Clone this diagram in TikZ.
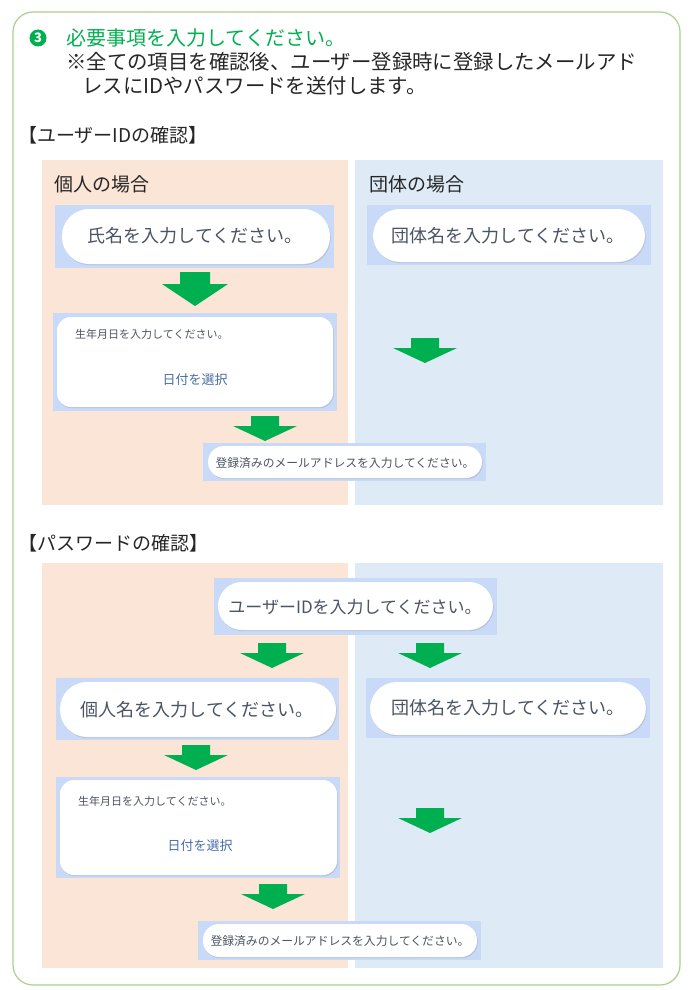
\documentclass[tikz,border=0pt]{standalone}
\usepackage{fontspec}
\setmainfont{Noto Sans CJK JP}
\usetikzlibrary{shadows}
\definecolor{tgreen}{HTML}{00B050}
\definecolor{frameg}{HTML}{A9D18E}
\definecolor{pinkbg}{HTML}{FBE5D6}
\definecolor{bluebg}{HTML}{DEEBF7}
\definecolor{lblue}{HTML}{C9DAF8}
\definecolor{tgray}{HTML}{4A5463}
\definecolor{linkb}{HTML}{4A6DA7}
\begin{document}
\begin{tikzpicture}[x=1pt,y=-1pt,
  pill/.style={fill=white,draw=none,rounded corners=#1,inner sep=0,
    drop shadow={opacity=0.25,shadow xshift=0.8pt,shadow yshift=-1.2pt}},
  ptext/.style={text=tgray,font=\fontsize{#1}{#1}\selectfont,inner sep=0},
  arr/.pic={\fill[tgreen] (-15,0) -- (15,0) -- (15,12) -- (33,12) -- (0,34) -- (-33,12) -- (-15,12) -- cycle;},
  sarr/.pic={\fill[tgreen] (-14,0) -- (14,0) -- (14,10) -- (32,10) -- (0,25) -- (-32,10) -- (-14,10) -- cycle;}
]
\useasboundingbox (0,0) rectangle (690,990);
\fill[white] (0,0) rectangle (690,990);
\draw[frameg,line width=1.2pt,rounded corners=20] (13,12) rectangle (680,985);
% header
\node[circle,fill=tgreen,text=white,inner sep=0,minimum size=17pt,font=\fontsize{13}{13}\selectfont\bfseries] (c3) at (38,38) {3};
\node[anchor=west,inner sep=0,text=tgreen,font=\fontsize{20}{20}\selectfont] (t1) at (66,38) {必要事項を入力してください。};
\node[anchor=west,inner sep=0,text=black!85,font=\fontsize{20.4}{20}\selectfont] (t2) at (66,62) {※全ての項目を確認後、ユーザー登録時に登録したメールアド};
\node[anchor=west,inner sep=0,text=black!85,font=\fontsize{20.4}{20}\selectfont] (t3) at (82,86) {レスにIDやパスワードを送付します。};
% section 1
\node[anchor=west,inner sep=0,text=black!85,font=\fontsize{19}{19}\selectfont] (s1) at (18,135) {【ユーザーIDの確認】};
\fill[pinkbg] (42,160) rectangle (348,505);
\fill[bluebg] (355,160) rectangle (663,505);
\node[anchor=west,inner sep=0,text=black!85,font=\fontsize{19}{19}\selectfont] (h1) at (54,184) {個人の場合};
\node[anchor=west,inner sep=0,text=black!85,font=\fontsize{19}{19}\selectfont] (h2) at (369,184) {団体の場合};
% name boxes
\fill[lblue] (55,205) rectangle (334,268);
\fill[pill=27] (62,209) rectangle (330,264);
\node[ptext=18] (n1) at (195,236) {氏名を入力してください。};
\fill[lblue] (367,205) rectangle (651,265);
\fill[pill=27] (373,209) rectangle (645,262);
\node[ptext=18] (g1) at (508,236) {団体名を入力してください。};
\pic at (195,272) {arr};
% birthday
\fill[lblue] (53,313) rectangle (337,411);
\fill[pill=14] (57,317) rectangle (333,407);
\node[anchor=west,ptext=11] (b1) at (75,334) {生年月日を入力してください。};
\node[text=linkb,inner sep=0,font=\fontsize{13}{13}\selectfont] (d1) at (195,380) {日付を選択};
\pic at (425,338) {sarr};
\pic at (265,416) {sarr};
% email
\fill[lblue] (203,443) rectangle (486,481);
\fill[pill=16] (208,446) rectangle (482,478);
\node[ptext=11.8] (e1) at (345,463) {登録済みのメールアドレスを入力してください。};
% section 2
\node[anchor=west,inner sep=0,text=black!85,font=\fontsize{19}{19}\selectfont] (s2) at (18,543) {【パスワードの確認】};
\fill[pinkbg] (42,563) rectangle (348,968);
\fill[bluebg] (355,563) rectangle (663,968);
\fill[lblue] (214,578) rectangle (497,635);
\fill[pill=24] (218,582) rectangle (493,630);
\node[ptext=17] (u1) at (355,607) {ユーザーIDを入力してください。};
\pic at (272,643) {sarr};
\pic at (430,643) {sarr};
\fill[lblue] (56,678) rectangle (339,740);
\fill[pill=27] (60,682) rectangle (336,737);
\node[ptext=18] (n2) at (197,710) {個人名を入力してください。};
\fill[lblue] (366,678) rectangle (650,738);
\fill[pill=27] (370,682) rectangle (646,735);
\node[ptext=18] (g2) at (508,708) {団体名を入力してください。};
\pic at (196,745) {sarr};
\fill[lblue] (56,777) rectangle (340,878);
\fill[pill=14] (60,780) rectangle (337,875);
\node[anchor=west,ptext=11] (b2) at (78,801) {生年月日を入力してください。};
\node[text=linkb,inner sep=0,font=\fontsize{13}{13}\selectfont] (d2) at (200,846) {日付を選択};
\pic at (430,808) {sarr};
\pic at (273,884) {sarr};
\fill[lblue] (198,921) rectangle (481,960);
\fill[pill=16] (203,924) rectangle (477,957);
\node[ptext=11.8] (e2) at (340,941) {登録済みのメールアドレスを入力してください。};
\end{tikzpicture}
\end{document}
